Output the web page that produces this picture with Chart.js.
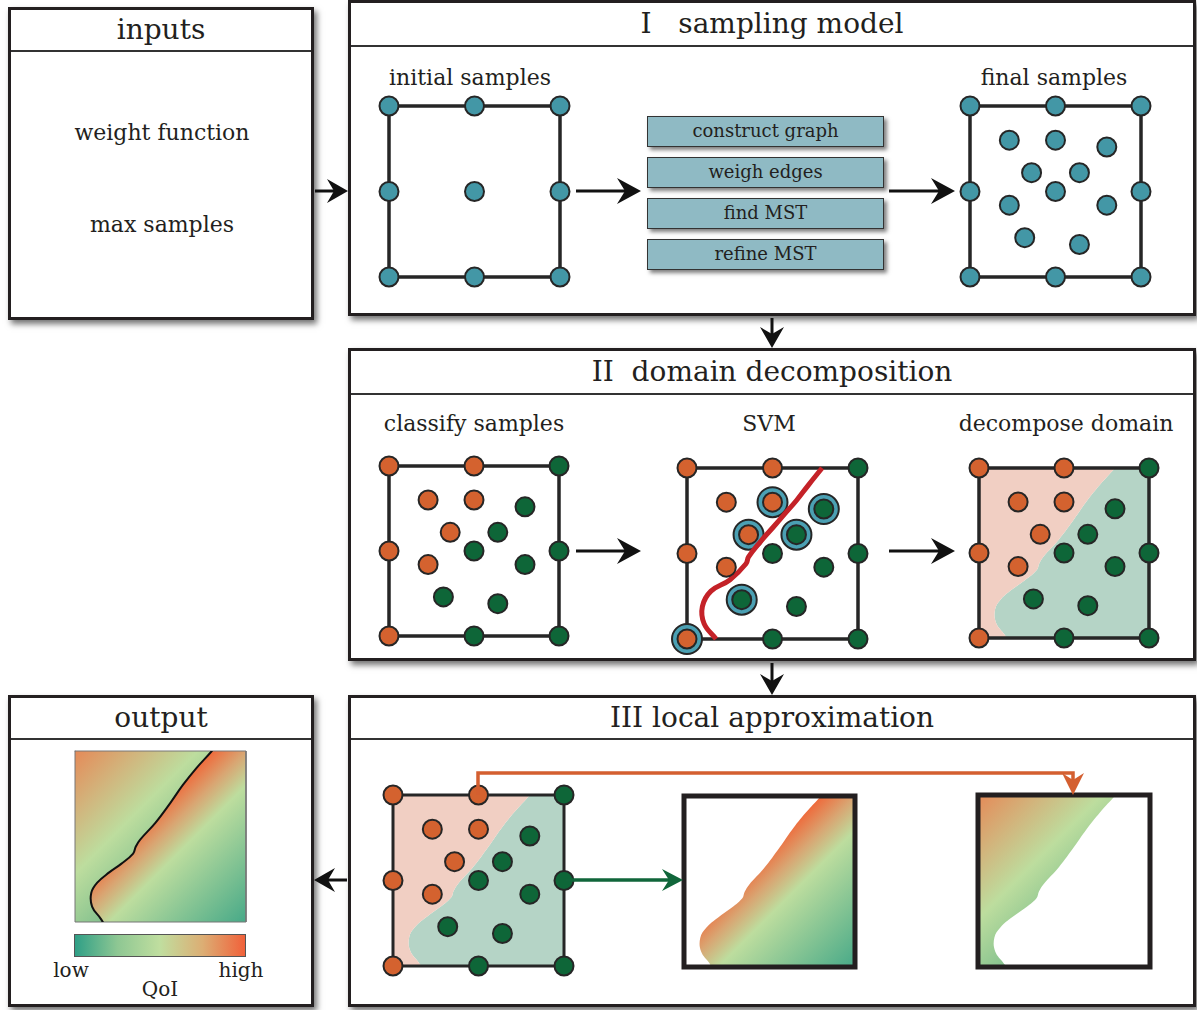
<!DOCTYPE html>
<html>
<head>
<meta charset="utf-8">
<script src="https://cdn.jsdelivr.net/npm/chart.js@4/dist/chart.umd.min.js"></script>
<style>
  body { margin: 0; background: #fff; }
  #page { position: relative; width: 1197px; height: 1010px; overflow: hidden; font-family: "DejaVu Serif", serif; color: #231f20; }
  .panel { position: absolute; box-sizing: border-box; border: 3px solid #231f20; background: #fff; box-shadow: 3px 4px 6px rgba(0,0,0,.55); }
  .panel .title { box-sizing: border-box; border-bottom: 2px solid #333; text-align: center; font-size: 28px; white-space: pre; }
  .label { position: absolute; transform: translate(-50%, -50%); white-space: nowrap; font-size: 22px; }
  .step { position: absolute; left: 647px; width: 237px; height: 31px; box-sizing: border-box; border: 1.5px solid #333; background: #8fbac4; box-shadow: 3px 3px 4px rgba(0,0,0,.5); text-align: center; font-size: 18px; line-height: 28px; }
  canvas { position: absolute; }
  svg { position: absolute; left: 0; top: 0; }
  .cbar { position: absolute; left: 74px; top: 934px; width: 172px; height: 23px; box-sizing: border-box; border: 1px solid #555;
          background: linear-gradient(90deg, #2f9f86 0%, #8ec793 25%, #c0de9f 50%, #dcae74 75%, #f1613a 100%); }
</style>
</head>
<body>
<div id="page">
  <div class="panel" style="left:8px;top:7px;width:306px;height:313px">
    <div class="title" style="height:42px;line-height:40px">inputs</div>
  </div>
  <div class="panel" style="left:348px;top:0px;width:848px;height:316px">
    <div class="title" style="height:44px;line-height:42px">I   sampling model</div>
  </div>
  <div class="panel" style="left:348px;top:348px;width:848px;height:313px">
    <div class="title" style="height:44px;line-height:42px">II  domain decomposition</div>
  </div>
  <div class="panel" style="left:348px;top:695px;width:848px;height:312px">
    <div class="title" style="height:42px;line-height:40px">III local approximation</div>
  </div>
  <div class="panel" style="left:8px;top:695px;width:306px;height:312px">
    <div class="title" style="height:42px;line-height:40px">output</div>
  </div>

  <div class="label" style="left:162px;top:132px">weight function</div>
  <div class="label" style="left:162px;top:224px">max samples</div>
  <div class="label" style="left:470px;top:77px">initial samples</div>
  <div class="label" style="left:1054px;top:77px">final samples</div>
  <div class="label" style="left:474px;top:423px">classify samples</div>
  <div class="label" style="left:769px;top:423px">SVM</div>
  <div class="label" style="left:1066px;top:423px">decompose domain</div>
  <div class="label" style="left:71px;top:970px;font-size:20px">low</div>
  <div class="label" style="left:241px;top:970px;font-size:20px">high</div>
  <div class="label" style="left:160px;top:989px;font-size:20px">QoI</div>

  <div class="step" style="top:116px">construct graph</div>
  <div class="step" style="top:157px">weigh edges</div>
  <div class="step" style="top:198px">find MST</div>
  <div class="step" style="top:239px">refine MST</div>

  <div class="cbar"></div>

  <svg id="arrows" width="1197" height="1010">
    <g stroke="#111" stroke-width="3" fill="none">
      <path d="M315 191 L334 191"/>
      <path d="M576 191 L626 191"/>
      <path d="M889 191 L940 191"/>
      <path d="M772 318 L772 334"/>
      <path d="M576 551 L626 551"/>
      <path d="M889 551 L940 551"/>
      <path d="M772 663 L772 681"/>
      <path d="M347 880 L328 880"/>
    </g>
    <g fill="#111">
      <path d="M348 191 L327 179 L334 191 L327 203 Z"/>
      <path d="M641 191 L617 178 L625 191 L617 204 Z"/>
      <path d="M955 191 L931 178 L939 191 L931 204 Z"/>
      <path d="M772 348 L760 327 L772 334 L784 327 Z"/>
      <path d="M641 551 L617 538 L625 551 L617 564 Z"/>
      <path d="M955 551 L931 538 L939 551 L931 564 Z"/>
      <path d="M772 695 L760 674 L772 681 L784 674 Z"/>
      <path d="M314 880 L335 868 L328 880 L335 892 Z"/>
    </g>
    <path d="M478 795 L478 773 L1073 773 L1073 782" stroke="#d45f30" stroke-width="3.5" fill="none"/>
    <path d="M1073 795 L1062 773 L1073 780 L1084 773 Z" fill="#d45f30"/>
    <path d="M566 880 L670 880" stroke="#10663a" stroke-width="3.5" fill="none"/>
    <path d="M683 880 L662 869 L669 880 L662 891 Z" fill="#10663a"/>
  </svg>
</div>

<script>
// sample positions inside the unit square (y measured from the top)
const gridX = [0, 0.5, 1, 0, 1, 0, 0.5, 1];
const gridY = [0, 0, 0, 0.5, 0.5, 1, 1, 1];
const initX = [0.5];
const initY = [0.5];
const innerX = [0.23, 0.50, 0.80, 0.36, 0.64, 0.50, 0.23, 0.80, 0.32, 0.64];
const innerY = [0.20, 0.20, 0.24, 0.39, 0.39, 0.50, 0.58, 0.58, 0.77, 0.81];

// 1 = orange class, 0 = green class (grid samples first, then inner samples)
const sampleClass = [1, 1, 0, 1, 0, 1, 0, 0, 1, 1, 0, 1, 0, 0, 1, 0, 0, 0];
const supportIdx = [5, 9, 10, 11, 12, 16];

// SVM separating curve
const svmX = [0.79, 0.71, 0.64, 0.57, 0.505, 0.43, 0.36, 0.345, 0.25, 0.14, 0.09, 0.10, 0.17];
const svmY = [0.00, 0.10, 0.19, 0.27, 0.345, 0.43, 0.52, 0.56, 0.655, 0.72, 0.81, 0.91, 1.00];

// domain boundary
const edgeX = [0.82, 0.80, 0.71, 0.63, 0.56, 0.47, 0.38, 0.355, 0.34, 0.27, 0.20, 0.13, 0.095, 0.10, 0.15, 0.18];
const edgeY = [-0.03, 0.00, 0.10, 0.20, 0.30, 0.42, 0.52, 0.56, 0.60, 0.66, 0.71, 0.77, 0.83, 0.91, 0.98, 1.03];

const ORANGE = '#d4622f';
const GREEN = '#0e6638';
const TEAL = '#4397a6';
const PAD = 20;

const highStops = [[0, '#e58a58'], [0.18, '#d2b47c'], [0.36, '#bddd9e'], [0.6, '#7fbf8d']];
const lowStops = [[0.40, '#ef6a3b'], [0.5, '#d9a572'], [0.6, '#bddd9e'], [1, '#47a988']];

function pts(xs, ys) {
  return xs.map(function (x, i) { return { x: x, y: ys[i] }; });
}

const allPts = pts(gridX.concat(innerX), gridY.concat(innerY));
const orangePts = allPts.filter(function (p, i) { return sampleClass[i] === 1; });
const greenPts = allPts.filter(function (p, i) { return sampleClass[i] === 0; });
const supportPts = supportIdx.map(function (i) { return allPts[i]; });

function diagGradient(stops) {
  return function (context) {
    const area = context.chart.chartArea;
    if (!area) return null;
    const g = context.chart.ctx.createLinearGradient(area.left, area.top, area.right, area.bottom);
    stops.forEach(function (s) { g.addColorStop(s[0], s[1]); });
    return g;
  };
}

function frame(color, width) {
  return {
    data: pts([0, 1, 1, 0, 0], [0, 0, 1, 1, 0]),
    borderColor: color, borderWidth: width, pointRadius: 0, fill: false, tension: 0,
    clip: false, borderJoinStyle: 'miter', borderCapStyle: 'square', order: 3
  };
}

function dots(data, color, r, order) {
  return {
    data: data, showLine: false, pointRadius: r, pointBackgroundColor: color,
    pointBorderColor: '#262626', pointBorderWidth: 2, clip: false, order: order || 0
  };
}

function curve(xs, ys, color, width, order, clip) {
  return {
    data: pts(xs, ys), borderColor: color, borderWidth: width, pointRadius: 0,
    tension: 0.4, capBezierPoints: false, fill: false, clip: clip, order: order
  };
}

function region(side, fillColor) {
  const data = pts(edgeX, edgeY);
  if (side === 'high') {
    data.push({ x: -0.3, y: 1.3 }, { x: -0.3, y: -0.3 });
  } else {
    data.push({ x: 1.3, y: 1.3 }, { x: 1.3, y: -0.3 });
  }
  return {
    data: data, fill: 'shape', backgroundColor: fillColor, borderColor: 'rgba(0,0,0,0)',
    borderWidth: 0, pointRadius: 0, tension: 0.4, capBezierPoints: false, clip: 0, order: 4
  };
}

function squareChart(left, top, size, datasets) {
  const c = document.createElement('canvas');
  c.width = size + 2 * PAD;
  c.height = size + 2 * PAD;
  c.style.left = (left - PAD) + 'px';
  c.style.top = (top - PAD) + 'px';
  const page = document.getElementById('page');
  page.insertBefore(c, document.getElementById('arrows'));
  return new Chart(c, {
    type: 'line',
    data: { datasets: datasets },
    options: {
      responsive: false,
      animation: false,
      events: [],
      layout: { padding: PAD },
      plugins: { legend: { display: false }, tooltip: { enabled: false } },
      scales: {
        x: { type: 'linear', min: 0, max: 1, display: false },
        y: { type: 'linear', min: 0, max: 1, reverse: true, display: false }
      }
    }
  });
}

/* I sampling model */
squareChart(389, 106, 171, [
  dots(pts(gridX, gridY), TEAL, 9.5),
  dots(pts(initX, initY), TEAL, 9.5),
  frame('#262626', 3.5)
]);
squareChart(970, 106, 171, [
  dots(allPts, TEAL, 9.5),
  frame('#262626', 3.5)
]);

/* II domain decomposition */
squareChart(389, 466, 170, [
  dots(orangePts, ORANGE, 9.5),
  dots(greenPts, GREEN, 9.5),
  frame('#262626', 3.5)
]);
squareChart(687, 468, 171, [
  dots(orangePts, ORANGE, 9.5),
  dots(greenPts, GREEN, 9.5),
  curve(svmX, svmY, '#c42228', 5, 1, false),
  dots(supportPts, '#4ba0b3', 15, 2),
  frame('#262626', 3.5)
]);
squareChart(979, 468, 170, [
  dots(orangePts, ORANGE, 9.5),
  dots(greenPts, GREEN, 9.5),
  frame('#262626', 3.5),
  region('high', '#f1cfc3'),
  region('low', '#b5d4c6')
]);

/* III local approximation */
squareChart(393, 795, 171, [
  dots(orangePts, ORANGE, 9.5),
  dots(greenPts, GREEN, 9.5),
  frame('#262626', 3),
  region('high', '#f1cfc3'),
  region('low', '#b5d4c6')
]);
squareChart(684, 796, 171, [
  frame('#231f20', 5),
  region('low', diagGradient(lowStops))
]);
squareChart(978, 795, 172, [
  frame('#231f20', 5),
  region('high', diagGradient(highStops))
]);

/* output */
squareChart(75, 751, 171, [
  curve(edgeX, edgeY, '#111', 2, 1, 0),
  frame('#777', 1),
  region('high', diagGradient(highStops)),
  region('low', diagGradient(lowStops))
]);
</script>
</body>
</html>
